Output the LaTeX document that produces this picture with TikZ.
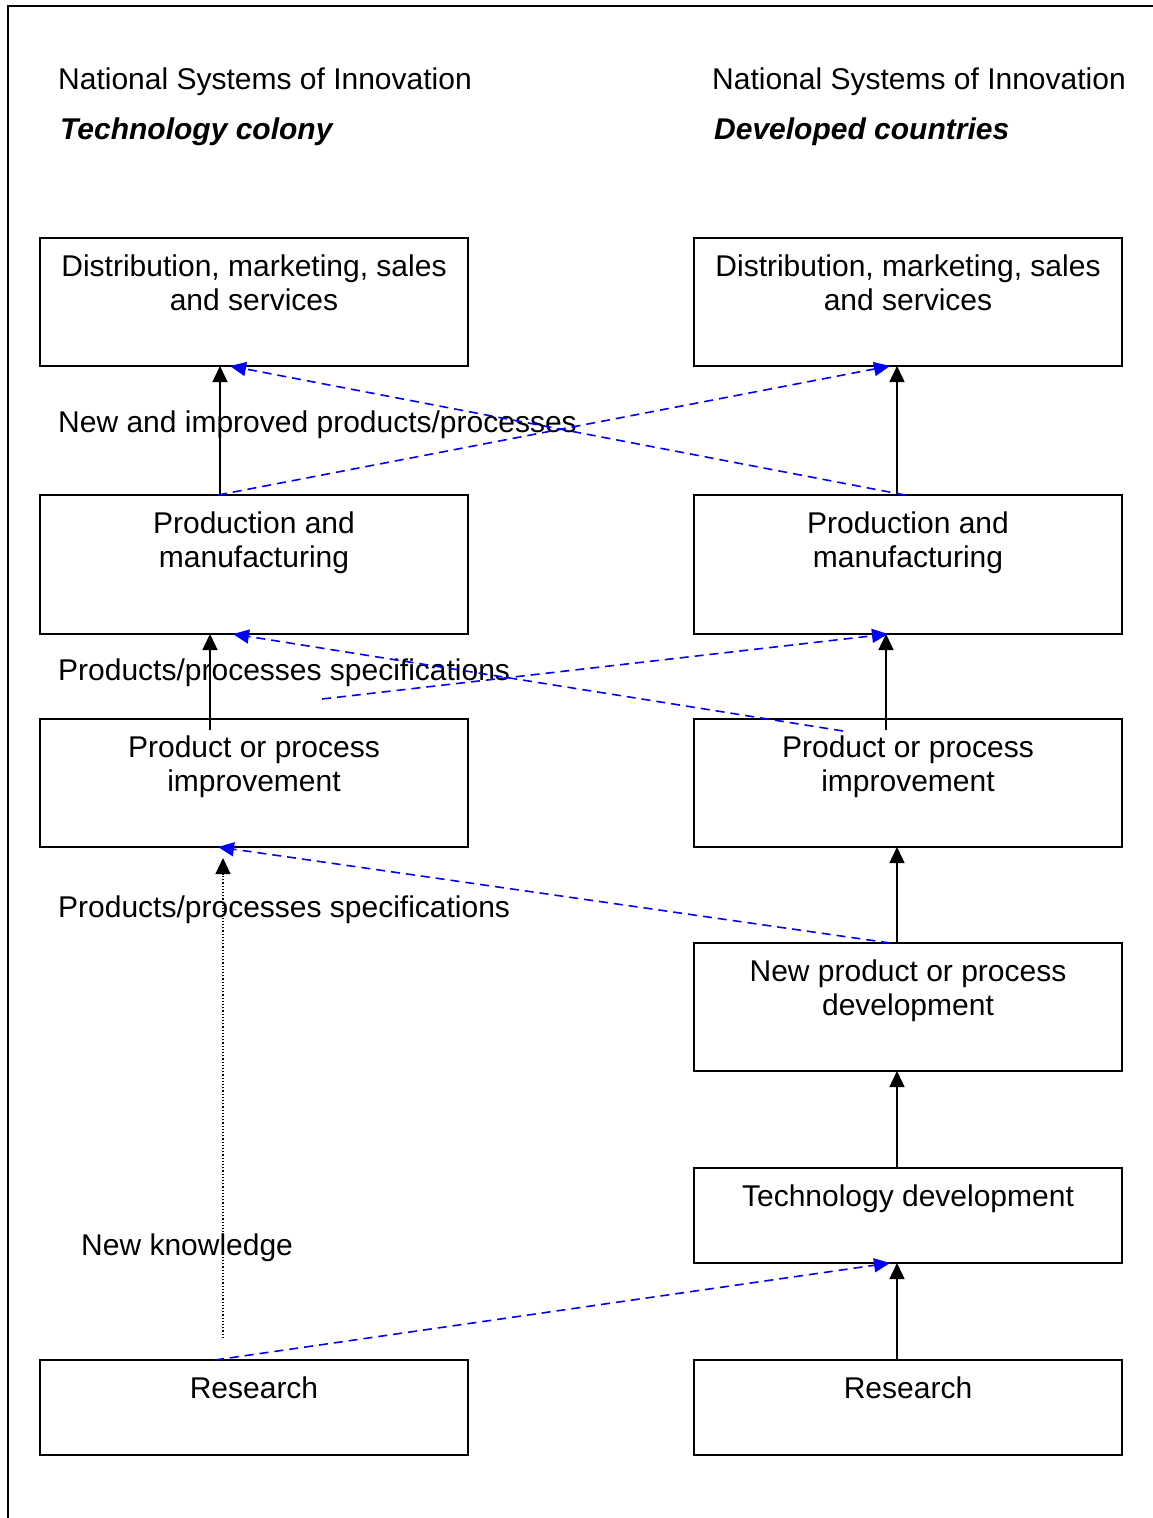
\documentclass[tikz,border=0pt]{standalone}
\usepackage{fontspec}
\setmainfont{Liberation Sans}
\usetikzlibrary{arrows.meta}
\newcommand{\fs}{\fontsize{30}{34}\selectfont}
\begin{document}
\begin{tikzpicture}[x=1pt,y=-1pt,
  box/.style={draw, line width=1.8pt, minimum width=428pt, anchor=north west,
    outer sep=0pt, inner sep=0pt},
  boxtext/.style={anchor=north, yshift=-17pt, align=center, inner sep=0pt, font=\fs},
  lbl/.style={anchor=base west, inner sep=0pt, font=\fs},
  flow/.style={line width=1.5pt, -{Triangle[length=16pt,width=15pt]}},
  know/.style={line width=1.2pt, dotted, -{Triangle[length=16pt,width=15pt]}},
  link/.style={line width=1.6pt, blue, dash pattern=on 9pt off 6pt,
    -{Triangle[length=16pt,width=14pt]}}]
\useasboundingbox (0,0) rectangle (1153,1518);

% page frame (top and left edges)
\draw[line width=1.8pt] (8,1518) -- (8,6) -- (1153,6);

% column headings
\node[lbl] (hL1) at (58,89) {National Systems of Innovation};
\node[lbl] (hL2) at (60,139) {\bfseries\itshape Technology colony};
\node[lbl] (hR1) at (712,89) {National Systems of Innovation};
\node[lbl] (hR2) at (714,139) {\bfseries\itshape Developed countries};

% technology colony column
\node[box, minimum height=128pt, label={[boxtext]north:{Distribution, marketing, sales\\and services}}] (dL) at (40,238) {};
\node[box, minimum height=139pt, label={[boxtext]north:{Production and\\manufacturing}}] (pL) at (40,495) {};
\node[box, minimum height=128pt, label={[boxtext]north:{Product or process\\improvement}}] (iL) at (40,719) {};
\node[box, minimum height=95pt, label={[boxtext]north:{Research}}] (rL) at (40,1360) {};

% developed countries column
\node[box, minimum height=128pt, label={[boxtext]north:{Distribution, marketing, sales\\and services}}] (dR) at (694,238) {};
\node[box, minimum height=139pt, label={[boxtext]north:{Production and\\manufacturing}}] (pR) at (694,495) {};
\node[box, minimum height=128pt, label={[boxtext]north:{Product or process\\improvement}}] (iR) at (694,719) {};
\node[box, minimum height=128pt, label={[boxtext]north:{New product or process\\development}}] (nR) at (694,943) {};
\node[box, minimum height=95pt, label={[boxtext]north:{Technology development}}] (tR) at (694,1168) {};
\node[box, minimum height=95pt, label={[boxtext]north:{Research}}] (rR) at (694,1360) {};

% flow labels
\node[lbl] (fl1) at (58,432) {New and improved products/processes};
\node[lbl] (fl2) at (58,680) {Products/processes specifications};
\node[lbl] (fl3) at (58,917) {Products/processes specifications};
\node[lbl] (fl4) at (81,1255) {New knowledge};

% free ends
\coordinate (specStart) at (322,699);
\coordinate (knowStart) at (223,1338);

% internal flows, technology colony
\draw[flow] ([xshift=-34pt]pL.north) -- ([xshift=-34pt]dL.south);
\draw[flow] ([xshift=-44pt,yshift=-11pt]iL.north) -- ([xshift=-44pt]pL.south);
\draw[know] (knowStart) -- ([xshift=-31pt,yshift=-11pt]iL.south);

% internal flows, developed countries
\draw[flow] ([xshift=-11pt]pR.north) -- ([xshift=-11pt]dR.south);
\draw[flow] ([xshift=-22pt,yshift=-11pt]iR.north) -- ([xshift=-22pt]pR.south);
\draw[flow] ([xshift=-11pt]nR.north) -- ([xshift=-11pt]iR.south);
\draw[flow] ([xshift=-11pt]tR.north) -- ([xshift=-11pt]nR.south);
\draw[flow] ([xshift=-11pt]rR.north) -- ([xshift=-11pt]tR.south);

% cross-links between the two systems
\draw[link] ([xshift=-3pt]pR.north) -- ([xshift=-24pt]dL.south);
\draw[link] ([xshift=-36pt]pL.north) -- ([xshift=-18pt]dR.south);
\draw[link] ([xshift=-65pt,yshift=-12pt]iR.north) -- ([xshift=-21pt]pL.south);
\draw[link] (specStart) -- ([xshift=-20pt]pR.south);
\draw[link] ([xshift=-18pt]nR.north) -- ([xshift=-36pt]iL.south);
\draw[link] ([xshift=-39pt]rL.north) -- ([xshift=-18pt]tR.south);
\end{tikzpicture}
\end{document}
